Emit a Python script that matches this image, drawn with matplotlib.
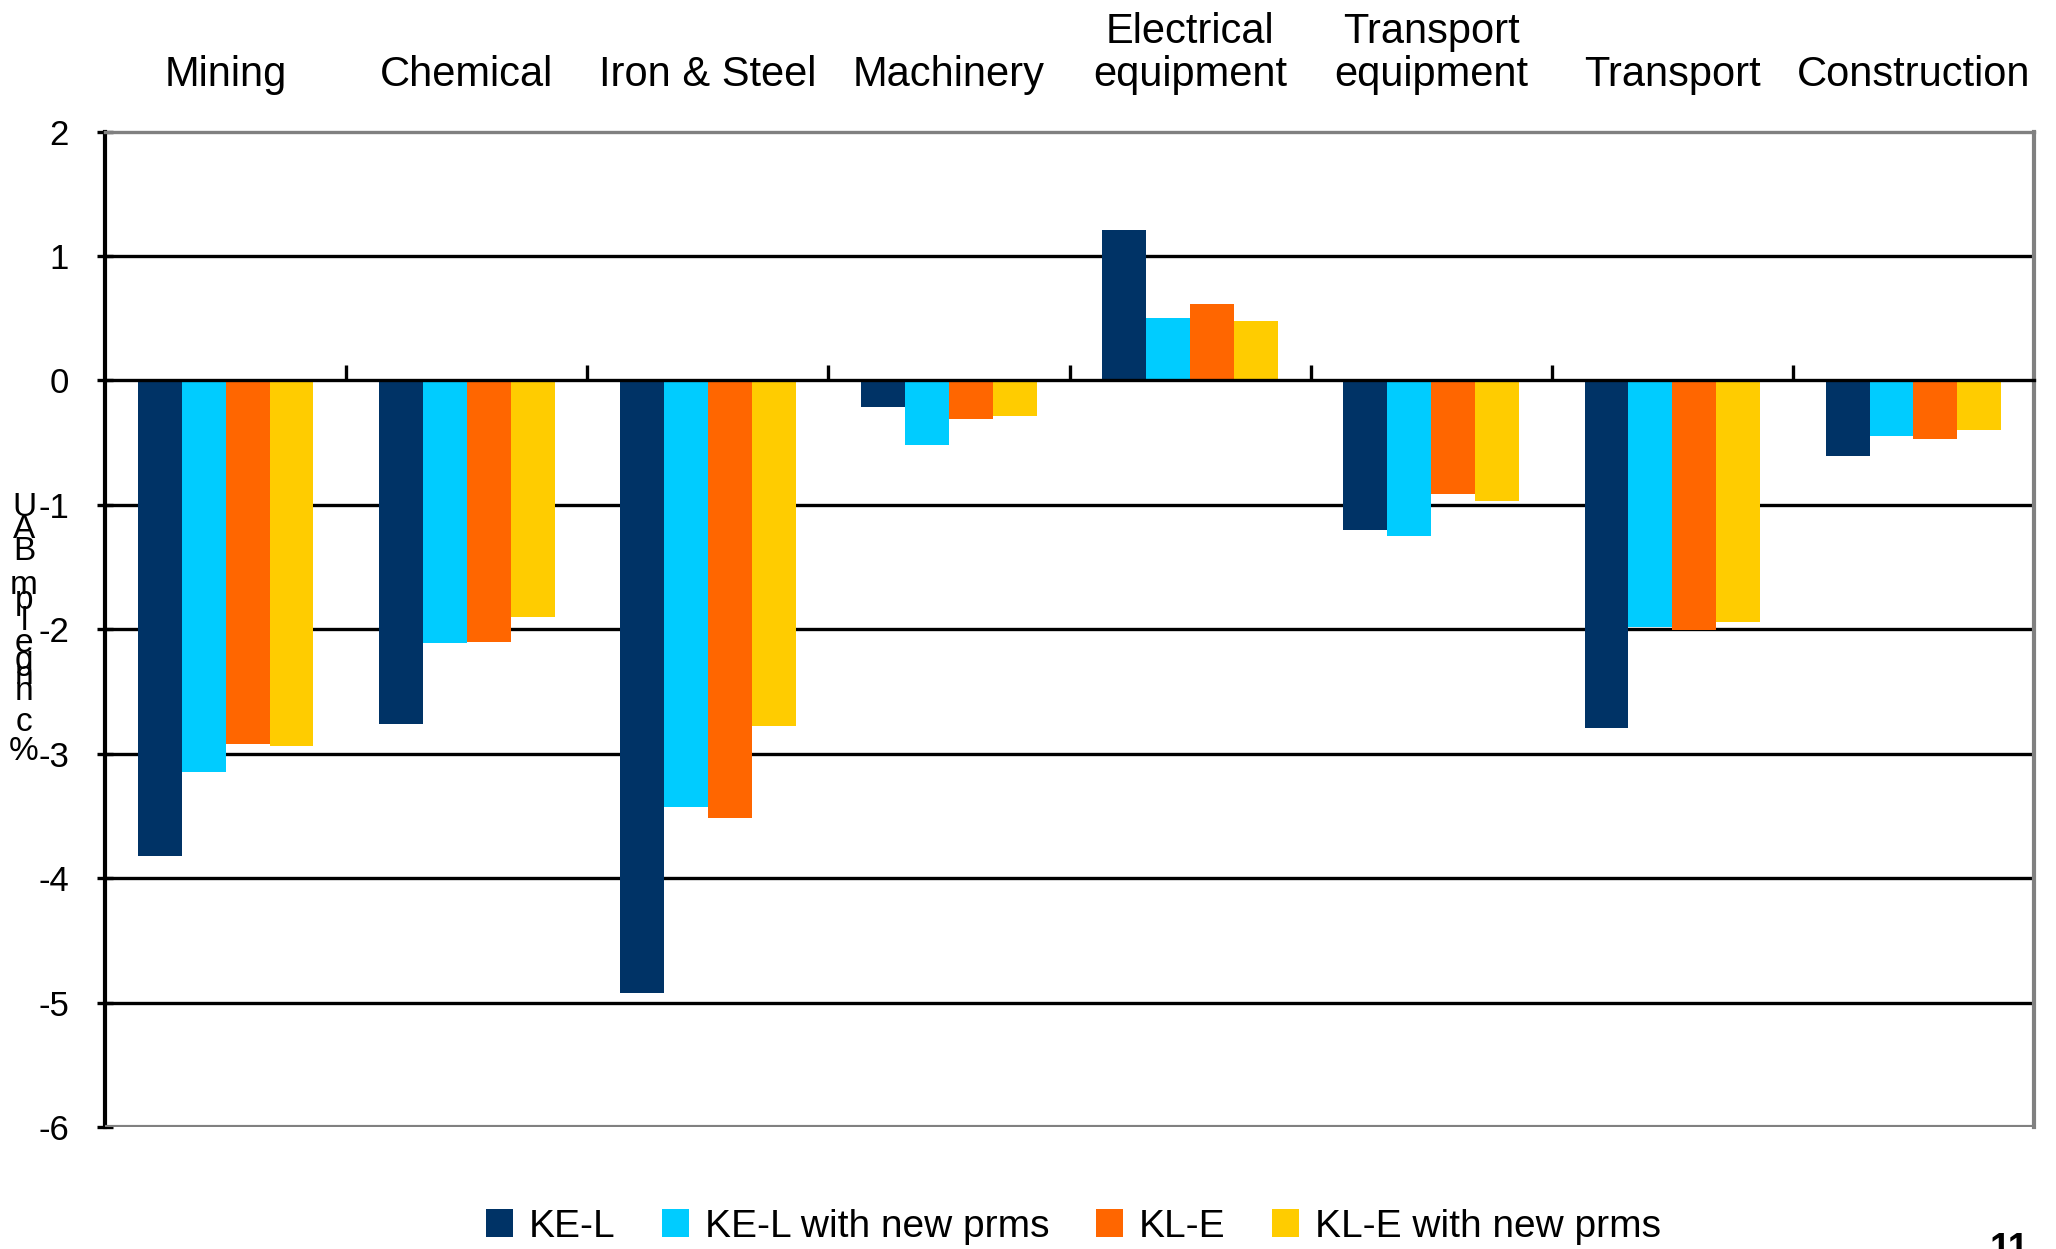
import numpy as np
import matplotlib
matplotlib.use('Agg')
from matplotlib import pyplot as plt
from matplotlib import font_manager

# pick a narrow Arial-like face if there is one
names = set(f.name for f in font_manager.fontManager.ttflist)
if 'Liberation Sans Narrow' in names:
    plt.rcParams['font.family'] = ['Liberation Sans Narrow', 'DejaVu Sans']
else:
    plt.rcParams['font.family'] = ['Liberation Sans', 'DejaVu Sans']

sectors = ['Mining', 'Chemical', 'Iron & Steel', 'Machinery', 'Electrical\nequipment',
           'Transport\nequipment', 'Transport', 'Construction']
series = ['KE-L', 'KE-L with new prms', 'KL-E', 'KL-E with new prms']

ke_l     = [-3.82, -2.76, -4.92, -0.21, 1.21, -1.20, -2.79, -0.61]
ke_l_new = [-3.15, -2.11, -3.43, -0.52, 0.50, -1.25, -1.98, -0.45]
kl_e     = [-2.92, -2.10, -3.52, -0.31, 0.61, -0.91, -2.01, -0.47]
kl_e_new = [-2.94, -1.90, -2.78, -0.29, 0.48, -0.97, -1.94, -0.40]

colors = ['#003366', '#00CCFF', '#FF6600', '#FFCC00']

fig = plt.figure(figsize=(20.56, 12.49), dpi=100)
ax = fig.add_axes([0.0511, 0.0977, 0.9382, 0.797])

x = np.arange(len(sectors))
w = 0.182
for i, (vals, lab) in enumerate(zip([ke_l, ke_l_new, kl_e, kl_e_new], series)):
    ax.bar(x + (i - 1.5) * w, vals, width=w, color=colors[i], label=lab, zorder=3, linewidth=0)

ax.set_xlim(-0.5, len(sectors) - 0.5)
ax.set_ylim(-6, 2)
ax.set_yticks(range(-6, 3))
ax.set_yticklabels([str(v) for v in range(-6, 3)], fontsize=25)
for v in [1, -1, -2, -3, -4, -5]:
    ax.axhline(v, color='black', lw=2.4, zorder=2)

# x axis sits on zero, ticks between sectors
ax.spines['bottom'].set_position(('data', 0))
ax.spines['bottom'].set_color('black')
ax.spines['bottom'].set_linewidth(2.4)
ax.spines['bottom'].set_zorder(4)
ax.set_xticks(np.arange(0.5, len(sectors) - 0.5, 1))
ax.set_xticklabels([])
ax.tick_params(axis='x', direction='in', length=11, width=2.4, color='black')
ax.axhline(-6, color='#808080', lw=3, zorder=4)
ax.spines['top'].set_color('#808080')
ax.spines['top'].set_linewidth(2.4)
ax.spines['right'].set_color('#808080')
ax.spines['right'].set_linewidth(3)
ax.spines['left'].set_color('black')
ax.spines['left'].set_linewidth(3)
ax.tick_params(axis='y', direction='inout', length=12, width=2.4, pad=20)

top = ax.secondary_xaxis('top')
top.set_xticks(x)
top.set_xticklabels(sectors, fontsize=30, linespacing=1.12)
top.tick_params(length=0, pad=26)
top.spines['top'].set_visible(False)

# garbled vertical axis title, as in the source slide
chars = ['U', 'A', 'B', 'm', 'p', 'l', 'e', 'g', 'n', 'n', 'c', '%']
ys = [508, 530, 552, 585, 600, 622, 643, 660, 675, 692, 722, 752]
for ch, yy in zip(chars, ys):
    fig.text(24 / 2056, 1 - yy / 1249, ch, fontsize=24, ha='center', va='center')

fig.legend(loc='center', bbox_to_anchor=(0.522, 0.018), ncol=4, frameon=False,
           fontsize=28, handlelength=0.7, handleheight=0.7, handletextpad=0.4,
           columnspacing=1.2)

fig.text(1990 / 2056, 1 - 1232 / 1249, '11', fontsize=27, weight='bold', va='top', ha='left')

fig.savefig('out.png', dpi=100)
